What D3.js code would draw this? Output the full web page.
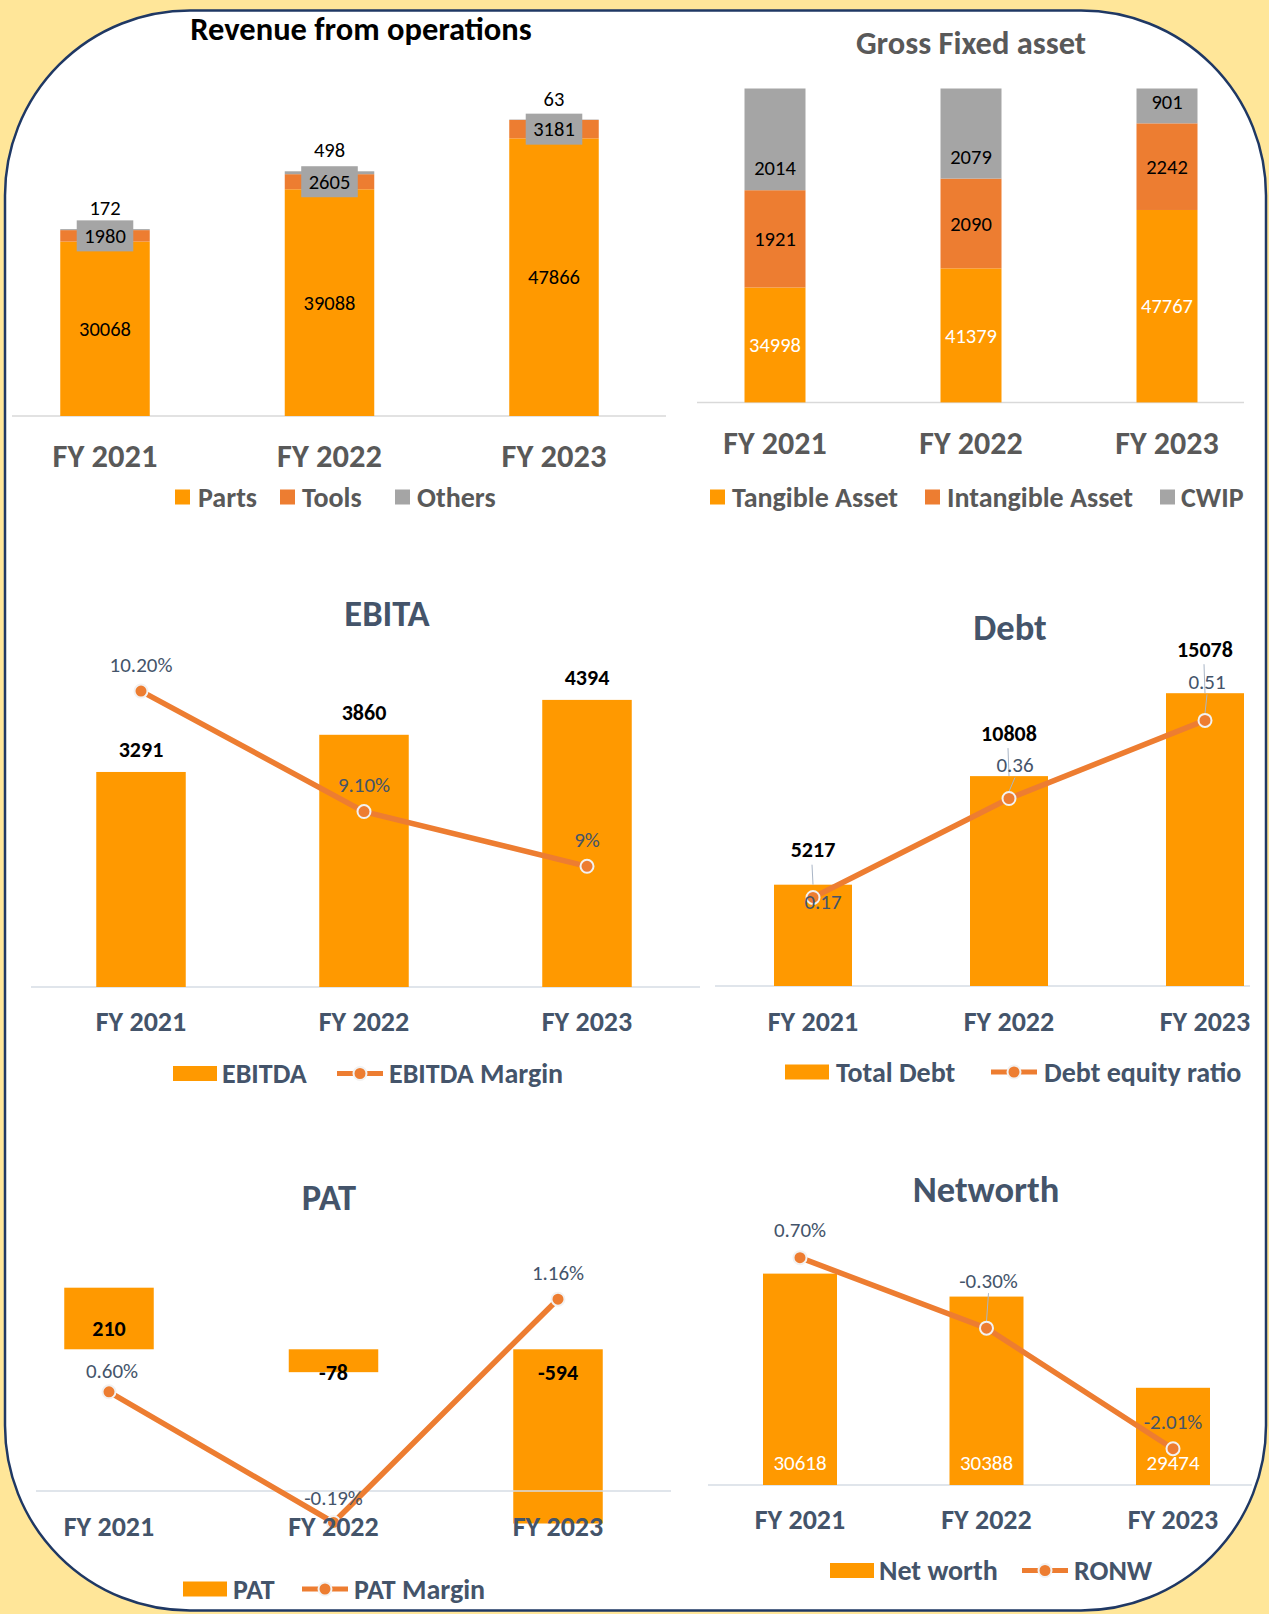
<!DOCTYPE html>
<html>
<head>
<meta charset="utf-8">
<script src="https://cdn.jsdelivr.net/npm/d3@7"></script>
<style>
  body { margin: 0; background: #FFE699; }
  svg { display: block; font-family: Carlito, Lato, sans-serif; }
</style>
</head>
<body>
<div id="chart"></div>
<script>
var years = ["FY 2021", "FY 2022", "FY 2023"];

// Revenue from operations
var parts = [30068, 39088, 47866];
var tools = [1980, 2605, 3181];
var others = [172, 498, 63];

// Gross fixed asset: printed values and the share of the bar each segment takes (%)
var tangible = [34998, 41379, 47767];
var intangible = [1921, 2090, 2242];
var cwip = [2014, 2079, 901];
var tangibleShare = [36.6, 42.7, 61.3];
var intangibleShare = [31.0, 28.6, 27.6];
var cwipShare = [32.4, 28.7, 11.1];

// EBITA
var ebitda = [3291, 3860, 4394];
var ebitdaMargin = [10.2, 9.1, 8.6];
var ebitdaMarginLabels = ["10.20%", "9.10%", "9%"];

// Debt
var totalDebt = [5217, 10808, 15078];
var debtEquity = [0.17, 0.36, 0.51];

// PAT
var pat = [210, -78, -594];
var patMargin = [0.60, -0.19, 1.16];

// Networth
var netWorth = [30618, 30388, 29474];
var ronw = [0.70, -0.30, -2.01];

var ORANGE = "#FF9900", DARK = "#ED7D31", GREY = "#A5A5A5";
var SLATE = "#44546A", DGREY = "#595959";

function txt(g, x, y, s, size, weight, fill, anchor) {
    return g.append("text")
        .attr("x", x).attr("y", y).attr("dy", "0.35em")
        .attr("text-anchor", anchor || "middle")
        .style("font-size", size + "px")
        .style("font-weight", weight)
        .style("fill", fill)
        .text(s);
}

function xLabels(g, x, y, size, color) {
    years.forEach(function(d) { txt(g, x(d), y, d, size, "bold", color); });
}

function legend(g, y, items, size, color) {
    items.forEach(function(it) {
        if (it.kind == "sq") {
            g.append("rect").attr("x", it.x).attr("y", y - 7.5).attr("width", 15).attr("height", 15).attr("fill", it.color);
        } else if (it.kind == "bar") {
            g.append("rect").attr("x", it.x).attr("y", y - 7.5).attr("width", 44).attr("height", 15).attr("fill", it.color);
        } else {
            g.append("line").attr("x1", it.x).attr("x2", it.x + 46).attr("y1", y).attr("y2", y)
                .attr("stroke", DARK).attr("stroke-width", 5);
            g.append("circle").attr("cx", it.x + 23).attr("cy", y).attr("r", 6.5)
                .attr("fill", DARK).attr("stroke", "#F2F2F2").attr("stroke-width", 2);
        }
        txt(g, it.tx, y, it.label, size, "bold", color, "start");
    });
}

function marginLine(g, x, y2, values, labels, offs, leader) {
    var line = d3.line().x(function(d, i) { return x(years[i]); }).y(function(d) { return y2(d); });
    g.append("path").datum(values).attr("d", line)
        .attr("fill", "none").attr("stroke", DARK).attr("stroke-width", 5.5);
    values.forEach(function(v, i) {
        var px = x(years[i]), py = y2(v);
        if (leader && leader[i]) {
            g.append("line").attr("x1", px + offs[i][0]).attr("x2", px)
                .attr("y1", py + offs[i][1] + 13).attr("y2", py - 7)
                .attr("stroke", "#A9B5C6").attr("stroke-width", 1);
        }
    });
    g.selectAll("circle.mk").data(values).enter().append("circle")
        .attr("class", "mk")
        .attr("cx", function(d, i) { return x(years[i]); })
        .attr("cy", function(d) { return y2(d); })
        .attr("r", 6.5)
        .attr("fill", DARK).attr("stroke", "#F2F2F2").attr("stroke-width", 2);
    values.forEach(function(v, i) {
        txt(g, x(years[i]) + offs[i][0], y2(v) + offs[i][1], labels[i], 21, "normal", SLATE);
    });
}

function init() {
    var w = 1269, h = 1614;
    var svg = d3.select("#chart").append("svg").attr("width", w).attr("height", h);

    svg.append("rect").attr("width", w).attr("height", h).attr("fill", "#FFE699");
    svg.append("rect")
        .attr("x", 5).attr("y", 10.5).attr("width", 1261).attr("height", 1600)
        .attr("rx", 185).attr("ry", 185)
        .attr("fill", "#ffffff").attr("stroke", "#1F3864").attr("stroke-width", 2.5);

    // ---------- Revenue from operations ----------
    var g1 = svg.append("g");
    var x1 = d3.scalePoint().domain(years).range([105, 554]);
    var y1 = d3.scaleLinear().domain([0, 60000]).range([416, 68]);
    var bw1 = 89.5;
    txt(g1, 361, 29, "Revenue from operations", 32.5, "bold", "#000");
    g1.append("line").attr("x1", 12).attr("x2", 666).attr("y1", 416).attr("y2", 416)
        .attr("stroke", "#D9D9D9").attr("stroke-width", 1.5);
    var stack1 = years.map(function(d, i) { return { year: d, parts: parts[i], tools: tools[i], others: others[i] }; });
    var series1 = d3.stack().keys(["parts", "tools", "others"])(stack1);
    var cols1 = { parts: ORANGE, tools: DARK, others: GREY };
    series1.forEach(function(s) {
        g1.selectAll(null).data(s).enter().append("rect")
            .attr("x", function(d) { return x1(d.data.year) - bw1 / 2; })
            .attr("y", function(d) { return y1(d[1]); })
            .attr("width", bw1)
            .attr("height", function(d) { return y1(d[0]) - y1(d[1]); })
            .attr("fill", cols1[s.key]);
    });
    stack1.forEach(function(d, i) {
        var cx = x1(d.year);
        txt(g1, cx, y1(parts[i] / 2), parts[i], 20.5, "normal", "#000");
        var ty = y1(parts[i] + tools[i] / 2);
        var t = txt(g1, cx, ty, tools[i], 20.5, "normal", "#000");
        var tw = t.node().getComputedTextLength();
        g1.insert("rect", function() { return t.node(); })
            .attr("x", cx - tw / 2 - 7.5).attr("y", ty - 15.5).attr("width", tw + 15).attr("height", 31)
            .attr("fill", GREY);
        txt(g1, cx, y1(parts[i] + tools[i] + others[i]) - 21, others[i], 20.5, "normal", "#000");
    });
    xLabels(g1, x1, 456, 32.5, DGREY);
    legend(g1, 497, [
        { kind: "sq", color: ORANGE, x: 175, tx: 198, label: "Parts" },
        { kind: "sq", color: DARK, x: 280, tx: 302, label: "Tools" },
        { kind: "sq", color: GREY, x: 395, tx: 417, label: "Others" }
    ], 28, DGREY);

    // ---------- Gross Fixed asset ----------
    var g2 = svg.append("g");
    var x2 = d3.scalePoint().domain(years).range([775, 1167]);
    var y2 = d3.scaleLinear().domain([0, 100]).range([402.4, 88.5]);
    var bw2 = 61;
    txt(g2, 971, 43, "Gross Fixed asset", 32.5, "bold", DGREY);
    g2.append("line").attr("x1", 697).attr("x2", 1244).attr("y1", 402.4).attr("y2", 402.4)
        .attr("stroke", "#D9D9D9").attr("stroke-width", 1.5);
    var stack2 = years.map(function(d, i) { return { year: d, tan: tangibleShare[i], intan: intangibleShare[i], cw: cwipShare[i] }; });
    var series2 = d3.stack().keys(["tan", "intan", "cw"])(stack2);
    var cols2 = { tan: ORANGE, intan: DARK, cw: GREY };
    series2.forEach(function(s) {
        g2.selectAll(null).data(s).enter().append("rect")
            .attr("x", function(d) { return x2(d.data.year) - bw2 / 2; })
            .attr("y", function(d) { return y2(d[1]); })
            .attr("width", bw2)
            .attr("height", function(d) { return y2(d[0]) - y2(d[1]); })
            .attr("fill", cols2[s.key]);
    });
    years.forEach(function(d, i) {
        var cx = x2(d);
        var a = series2[0][i], b = series2[1][i], c = series2[2][i];
        txt(g2, cx, y2((a[0] + a[1]) / 2), tangible[i], 20.5, "normal", "#fff");
        txt(g2, cx, y2((b[0] + b[1]) / 2), intangible[i], 20.5, "normal", "#000");
        txt(g2, cx, y2(c[0]) - 22, cwip[i], 20.5, "normal", "#000");
    });
    xLabels(g2, x2, 442.5, 32, DGREY);
    legend(g2, 497, [
        { kind: "sq", color: ORANGE, x: 710, tx: 732, label: "Tangible Asset" },
        { kind: "sq", color: DARK, x: 925, tx: 947, label: "Intangible Asset" },
        { kind: "sq", color: GREY, x: 1160, tx: 1181, label: "CWIP" }
    ], 28, DGREY);

    // ---------- EBITA ----------
    var g3 = svg.append("g");
    var x3 = d3.scalePoint().domain(years).range([141, 587]);
    var y3 = d3.scaleLinear().domain([0, 5000]).range([987, 660.3]);
    var y3b = d3.scaleLinear().domain([8, 11]).range([932, 603.5]);
    var bw3 = 89.5;
    txt(g3, 387, 613, "EBITA", 36.5, "bold", SLATE);
    g3.append("line").attr("x1", 31).attr("x2", 700).attr("y1", 987).attr("y2", 987)
        .attr("stroke", "#D6DCE5").attr("stroke-width", 1.5);
    g3.selectAll("rect.bar").data(ebitda).enter().append("rect").attr("class", "bar")
        .attr("x", function(d, i) { return x3(years[i]) - bw3 / 2; })
        .attr("y", function(d) { return y3(d); })
        .attr("width", bw3)
        .attr("height", function(d) { return y3(0) - y3(d); })
        .attr("fill", ORANGE);
    ebitda.forEach(function(v, i) { txt(g3, x3(years[i]), y3(v) - 22.5, v, 22, "bold", "#000"); });
    marginLine(g3, x3, y3b, ebitdaMargin, ebitdaMarginLabels, [[0, -26.5], [0, -26.5], [0, -26.5]]);
    xLabels(g3, x3, 1021, 28, SLATE);
    legend(g3, 1073.5, [
        { kind: "bar", color: ORANGE, x: 173, tx: 222, label: "EBITDA" },
        { kind: "line", x: 337, tx: 389, label: "EBITDA Margin" }
    ], 28, SLATE);

    // ---------- Debt ----------
    var g4 = svg.append("g");
    var x4 = d3.scalePoint().domain(years).range([813, 1205]);
    var y4 = d3.scaleLinear().domain([0, 16000]).range([986, 675.3]);
    var y4b = d3.scaleLinear().domain([0, 0.6]).range([986, 673.5]);
    var bw4 = 78;
    txt(g4, 1010, 627, "Debt", 36.5, "bold", SLATE);
    g4.append("line").attr("x1", 715).attr("x2", 1250).attr("y1", 986).attr("y2", 986)
        .attr("stroke", "#D6DCE5").attr("stroke-width", 1.5);
    g4.selectAll("rect.bar").data(totalDebt).enter().append("rect").attr("class", "bar")
        .attr("x", function(d, i) { return x4(years[i]) - bw4 / 2; })
        .attr("y", function(d) { return y4(d); })
        .attr("width", bw4)
        .attr("height", function(d) { return y4(0) - y4(d); })
        .attr("fill", ORANGE);
    var debtLift = [35, 43, 44];
    totalDebt.forEach(function(v, i) {
        var cx = x4(years[i]), ly = y4(v) - debtLift[i];
        g4.append("line").attr("x1", cx - 1).attr("x2", cx).attr("y1", ly + 15).attr("y2", y4(v))
            .attr("stroke", "#A9B5C6").attr("stroke-width", 1);
        txt(g4, cx, ly, v, 22, "bold", "#000");
    });
    marginLine(g4, x4, y4b, debtEquity, debtEquity.map(function(d) { return d.toFixed(2); }),
        [[10, 4], [6, -34], [2, -39]], [false, true, true]);
    xLabels(g4, x4, 1021, 28, SLATE);
    legend(g4, 1072, [
        { kind: "bar", color: ORANGE, x: 785, tx: 836, label: "Total Debt" },
        { kind: "line", x: 991, tx: 1044, label: "Debt equity ratio" }
    ], 28, SLATE);

    // ---------- PAT ----------
    var g5 = svg.append("g");
    var x5 = d3.scalePoint().domain(years).range([109, 558]);
    var y5 = d3.scaleLinear().domain([-700, 300]).range([1554.6, 1261.3]);
    var y5b = d3.scaleLinear().domain([-0.5, 1.5]).range([1573.7, 1243]);
    var bw5 = 89.5;
    txt(g5, 329, 1197, "PAT", 36.5, "bold", SLATE);
    g5.selectAll("rect.bar").data(pat).enter().append("rect").attr("class", "bar")
        .attr("x", function(d, i) { return x5(years[i]) - bw5 / 2; })
        .attr("y", function(d) { return y5(Math.max(0, d)); })
        .attr("width", bw5)
        .attr("height", function(d) { return Math.abs(y5(d) - y5(0)); })
        .attr("fill", ORANGE);
    g5.append("line").attr("x1", 36).attr("x2", 671).attr("y1", y5b(0)).attr("y2", y5b(0))
        .attr("stroke", "#D6DCE5").attr("stroke-width", 1.5);
    pat.forEach(function(v, i) {
        txt(g5, x5(years[i]), y5(0) + (v < 0 ? 23.5 : -20.5), v, 22, "bold", "#000");
    });
    marginLine(g5, x5, y5b, patMargin, patMargin.map(function(d) { return d.toFixed(2) + "%"; }),
        [[3, -21], [0, -25], [0, -26.5]]);
    xLabels(g5, x5, 1526, 28, SLATE);
    legend(g5, 1589, [
        { kind: "bar", color: ORANGE, x: 183, tx: 233, label: "PAT" },
        { kind: "line", x: 302, tx: 354, label: "PAT Margin" }
    ], 28, SLATE);

    // ---------- Networth ----------
    var g6 = svg.append("g");
    var x6 = d3.scalePoint().domain(years).range([800, 1173]);
    var y6 = d3.scaleLinear().domain([28500, 31500]).range([1485, 1185.6]);
    var y6b = d3.scaleLinear().domain([-3, 1.5]).range([1518.5, 1201.25]);
    var bw6 = 74;
    txt(g6, 986, 1189, "Networth", 36.5, "bold", SLATE);
    g6.append("line").attr("x1", 708).attr("x2", 1252).attr("y1", 1485).attr("y2", 1485)
        .attr("stroke", "#D6DCE5").attr("stroke-width", 1.5);
    g6.selectAll("rect.bar").data(netWorth).enter().append("rect").attr("class", "bar")
        .attr("x", function(d, i) { return x6(years[i]) - bw6 / 2; })
        .attr("y", function(d) { return y6(d); })
        .attr("width", bw6)
        .attr("height", function(d) { return y6.range()[0] - y6(d); })
        .attr("fill", ORANGE);
    netWorth.forEach(function(v, i) { txt(g6, x6(years[i]), 1462.5, v, 21, "normal", "#fff"); });
    marginLine(g6, x6, y6b, ronw, ronw.map(function(d) { return d.toFixed(2) + "%"; }),
        [[0, -28], [2, -48], [0, -27]], [false, true, false]);
    xLabels(g6, x6, 1519, 28, SLATE);
    legend(g6, 1570.5, [
        { kind: "bar", color: ORANGE, x: 830, tx: 879, label: "Net worth" },
        { kind: "line", x: 1022, tx: 1074, label: "RONW" }
    ], 28, SLATE);
}

window.onload = init;
</script>
</body>
</html>
